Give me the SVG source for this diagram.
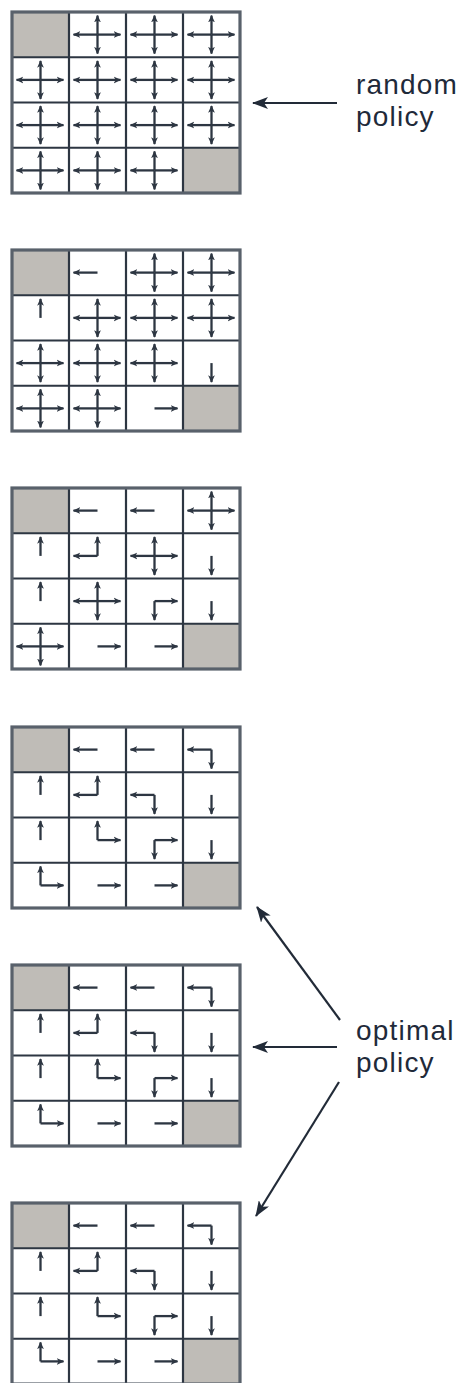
<svg xmlns="http://www.w3.org/2000/svg" xmlns:xlink="http://www.w3.org/1999/xlink" width="466" height="1383" viewBox="0 0 466 1383">
<style>
.bg{fill:#ffffff}
.term{fill:#bfbcb7}
.gl{stroke:#2d3642;stroke-width:2.2;fill:none}
.bd{stroke:#59616b;stroke-width:3.2;fill:none}
.arm{stroke:#2d3642;stroke-width:2.3;fill:none;marker-end:url(#h)}
.con{stroke:#222b38;stroke-width:2.2;fill:none;marker-end:url(#H)}
.lbl{font-family:"Liberation Sans",Arial,sans-serif;font-size:28px;letter-spacing:1.2px;fill:#1f2a3a}
</style>
<defs>
<marker id="h" viewBox="0 0 10 10" refX="9" refY="5" markerWidth="7.5" markerHeight="7.5" markerUnits="userSpaceOnUse" orient="auto">
<path d="M0,0.5 L10,5 L0,9.5 L2.5,5 z" fill="#2d3642"/>
</marker>
<marker id="H" viewBox="0 0 16 12" refX="15" refY="6" markerWidth="16" markerHeight="12" markerUnits="userSpaceOnUse" orient="auto">
<path d="M0,0 L16,6 L0,12 L4,6 z" fill="#222b38"/>
</marker>
<path id="L" class="arm" d="M0,0 h-24"/>
<path id="R" class="arm" d="M0,0 h23"/>
<path id="U" class="arm" d="M0,0 v-19"/>
<path id="D" class="arm" d="M0,0 v19"/>
<g id="X"><use href="#L"/><use href="#R"/><use href="#U"/><use href="#D"/></g>
<g id="frame">
<rect class="bg" x="12" y="12" width="228" height="181"/>
<rect class="term" x="12" y="12" width="57" height="45.25"/>
<rect class="term" x="183" y="147.75" width="57" height="45.25"/>
<path class="gl" d="M69,12 V193 M126,12 V193 M183,12 V193 M12,57.25 H240 M12,102.5 H240 M12,147.75 H240"/>
<rect class="bd" x="12" y="12" width="228" height="181"/>
</g>
</defs>

<g id="grid1">
<use href="#frame"/>
<use href="#X" x="97.5" y="34.6"/><use href="#X" x="154.5" y="34.6"/><use href="#X" x="211.5" y="34.6"/>
<use href="#X" x="40.5" y="79.9"/><use href="#X" x="97.5" y="79.9"/><use href="#X" x="154.5" y="79.9"/><use href="#X" x="211.5" y="79.9"/>
<use href="#X" x="40.5" y="125.1"/><use href="#X" x="97.5" y="125.1"/><use href="#X" x="154.5" y="125.1"/><use href="#X" x="211.5" y="125.1"/>
<use href="#X" x="40.5" y="170.4"/><use href="#X" x="97.5" y="170.4"/><use href="#X" x="154.5" y="170.4"/>
</g>

<g id="grid2" transform="translate(0,238)">
<use href="#frame"/>
<use href="#L" x="97.5" y="34.6"/><use href="#X" x="154.5" y="34.6"/><use href="#X" x="211.5" y="34.6"/>
<use href="#U" x="40.5" y="79.9"/><use href="#X" x="97.5" y="79.9"/><use href="#X" x="154.5" y="79.9"/><use href="#X" x="211.5" y="79.9"/>
<use href="#X" x="40.5" y="125.1"/><use href="#X" x="97.5" y="125.1"/><use href="#X" x="154.5" y="125.1"/><use href="#D" x="211.5" y="125.1"/>
<use href="#X" x="40.5" y="170.4"/><use href="#X" x="97.5" y="170.4"/><use href="#R" x="154.5" y="170.4"/>
</g>

<g id="grid3" transform="translate(0,476)">
<use href="#frame"/>
<use href="#L" x="97.5" y="34.6"/><use href="#L" x="154.5" y="34.6"/><use href="#X" x="211.5" y="34.6"/>
<use href="#U" x="40.5" y="79.9"/><use href="#U" x="97.5" y="79.9"/><use href="#L" x="97.5" y="79.9"/><use href="#X" x="154.5" y="79.9"/><use href="#D" x="211.5" y="79.9"/>
<use href="#U" x="40.5" y="125.1"/><use href="#X" x="97.5" y="125.1"/><use href="#R" x="154.5" y="125.1"/><use href="#D" x="154.5" y="125.1"/><use href="#D" x="211.5" y="125.1"/>
<use href="#X" x="40.5" y="170.4"/><use href="#R" x="97.5" y="170.4"/><use href="#R" x="154.5" y="170.4"/>
</g>

<g id="grid4" transform="translate(0,715)">
<use href="#frame"/>
<use href="#L" x="97.5" y="34.6"/><use href="#L" x="154.5" y="34.6"/><use href="#L" x="211.5" y="34.6"/><use href="#D" x="211.5" y="34.6"/>
<use href="#U" x="40.5" y="79.9"/><use href="#U" x="97.5" y="79.9"/><use href="#L" x="97.5" y="79.9"/><use href="#L" x="154.5" y="79.9"/><use href="#D" x="154.5" y="79.9"/><use href="#D" x="211.5" y="79.9"/>
<use href="#U" x="40.5" y="125.1"/><use href="#U" x="97.5" y="125.1"/><use href="#R" x="97.5" y="125.1"/><use href="#R" x="154.5" y="125.1"/><use href="#D" x="154.5" y="125.1"/><use href="#D" x="211.5" y="125.1"/>
<use href="#U" x="40.5" y="170.4"/><use href="#R" x="40.5" y="170.4"/><use href="#R" x="97.5" y="170.4"/><use href="#R" x="154.5" y="170.4"/>
</g>

<g id="grid5" transform="translate(0,953)">
<use href="#frame"/>
<use href="#L" x="97.5" y="34.6"/><use href="#L" x="154.5" y="34.6"/><use href="#L" x="211.5" y="34.6"/><use href="#D" x="211.5" y="34.6"/>
<use href="#U" x="40.5" y="79.9"/><use href="#U" x="97.5" y="79.9"/><use href="#L" x="97.5" y="79.9"/><use href="#L" x="154.5" y="79.9"/><use href="#D" x="154.5" y="79.9"/><use href="#D" x="211.5" y="79.9"/>
<use href="#U" x="40.5" y="125.1"/><use href="#U" x="97.5" y="125.1"/><use href="#R" x="97.5" y="125.1"/><use href="#R" x="154.5" y="125.1"/><use href="#D" x="154.5" y="125.1"/><use href="#D" x="211.5" y="125.1"/>
<use href="#U" x="40.5" y="170.4"/><use href="#R" x="40.5" y="170.4"/><use href="#R" x="97.5" y="170.4"/><use href="#R" x="154.5" y="170.4"/>
</g>

<g id="grid6" transform="translate(0,1191)">
<use href="#frame"/>
<use href="#L" x="97.5" y="34.6"/><use href="#L" x="154.5" y="34.6"/><use href="#L" x="211.5" y="34.6"/><use href="#D" x="211.5" y="34.6"/>
<use href="#U" x="40.5" y="79.9"/><use href="#U" x="97.5" y="79.9"/><use href="#L" x="97.5" y="79.9"/><use href="#L" x="154.5" y="79.9"/><use href="#D" x="154.5" y="79.9"/><use href="#D" x="211.5" y="79.9"/>
<use href="#U" x="40.5" y="125.1"/><use href="#U" x="97.5" y="125.1"/><use href="#R" x="97.5" y="125.1"/><use href="#R" x="154.5" y="125.1"/><use href="#D" x="154.5" y="125.1"/><use href="#D" x="211.5" y="125.1"/>
<use href="#U" x="40.5" y="170.4"/><use href="#R" x="40.5" y="170.4"/><use href="#R" x="97.5" y="170.4"/><use href="#R" x="154.5" y="170.4"/>
</g>

<g id="label-random">
<text class="lbl" x="356" y="94">random</text>
<text class="lbl" x="356" y="126">policy</text>
</g>
<g id="label-optimal">
<text class="lbl" x="356" y="1040">optimal</text>
<text class="lbl" x="356" y="1072">policy</text>
</g>

<g id="connectors">
<path class="con" d="M337,103 L253,103"/>
<path class="con" d="M340,1020 L257,907"/>
<path class="con" d="M337,1047 L253,1047"/>
<path class="con" d="M339,1082 L256,1216"/>
</g>
</svg>
